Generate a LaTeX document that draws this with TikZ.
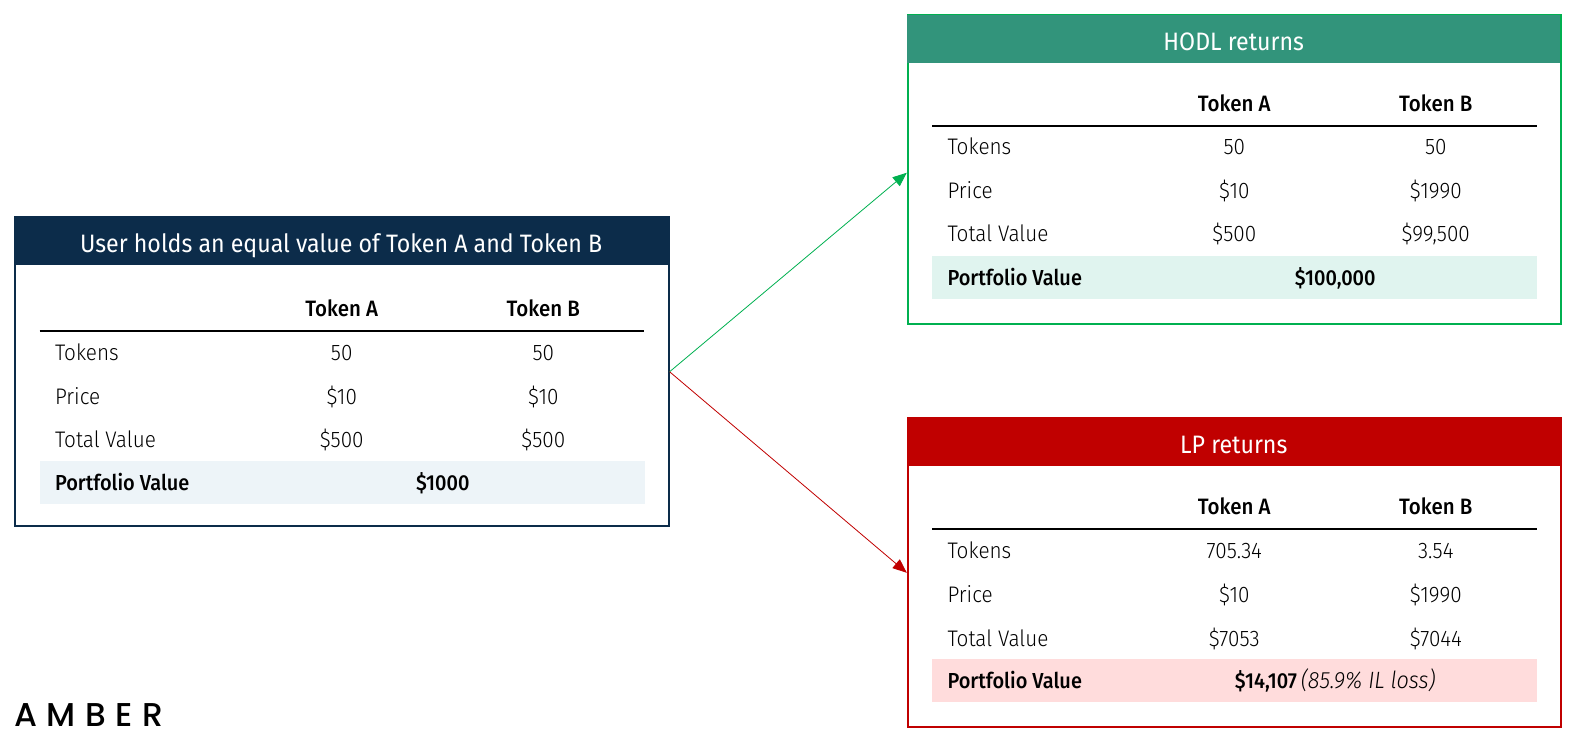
\documentclass[tikz,border=0pt]{standalone}
\usepackage{fontspec}
\setmainfont{Fira Sans Light}[BoldFont={Fira Sans Medium},ItalicFont={Fira Sans Light Italic},FakeStretch=0.92]
\newfontfamily\titlefont{Fira Sans}[FakeStretch=0.92]
\newfontfamily\logofont{Poppins Medium}[LetterSpace=29]
\usetikzlibrary{arrows.meta,calc}
\definecolor{navy}{HTML}{0C2C4A}
\definecolor{navyband}{HTML}{EDF4F8}
\definecolor{hgreen}{HTML}{00B050}
\definecolor{htitle}{HTML}{32947B}
\definecolor{hband}{HTML}{E0F4EF}
\definecolor{lred}{HTML}{C00000}
\definecolor{lband}{HTML}{FFDCDC}
\tikzset{
  x=0.75pt,y=-0.75pt,
  framebox/.style={draw=#1,line width=1.5pt,minimum width=487.5pt,minimum height=230.5pt,inner sep=0pt,anchor=north west},
  titlebox/.style={fill=#1,minimum width=487.5pt,minimum height=36.4pt,inner sep=0pt,anchor=north west,text=white,text height=16.6pt,text depth=0pt,font=\titlefont\fontsize{18.8}{20}\selectfont},
  bandbox/.style={fill=#1,minimum width=451.5pt,minimum height=31.8pt,inner sep=0pt,anchor=north west},
  cell/.style={inner sep=0pt,anchor=base,font=\fontsize{16.8}{18}\selectfont,text=black},
  cellL/.style={cell,anchor=base west},
  headcell/.style={cell,font=\fontsize{16.6}{18}\bfseries\selectfont,text=black},
  sumcell/.style={cell,font=\fontsize{16.2}{18}\bfseries\selectfont,text=black},
  sumcellL/.style={sumcell,anchor=base west},
  conn/.style={draw=#1,line width=0.6pt,-{Stealth[length=10.5pt,width=8.5pt,inset=0pt,fill=#1]}},
}
% name, left, top, frame colour, title fill, band colour, title, offset of body rows
\newcommand{\panelhead}[8]{%
  \node[framebox=#4] (#1frame) at ($(#2,#3)+(-0.8,-0.8)$) {};
  \node[titlebox=#5] (#1title) at ($(#2,#3)+(-0.8,-0.8)$) {#7};
  \node[bandbox=#6] (#1band) at ($(#2,#3)+(24.3,#8+239.4)$) {};
  \coordinate (#1ruleL) at ($(#2,#3)+(24.5,#8+110)$);
  \coordinate (#1ruleR) at ($(#2,#3)+(626,#8+110)$);
  \draw[line width=1.4pt,black] (#1ruleL) -- (#1ruleR);
  \node[headcell] (#1hA) at ($(#2,#3)+(325,#8+96)$) {Token A};
  \node[headcell] (#1hB) at ($(#2,#3)+(525.5,#8+96)$) {Token B};
}
% name, left, y, label, a, b
\newcommand{\panelrow}[6]{%
  \node[cellL] (#1l) at (#2+39.5,#3+8) {#4};
  \node[cell] (#1a) at (#2+325,#3+8) {#5};
  \node[cell] (#1b) at (#2+525.5,#3+8) {#6};
}
\newcommand{\panelsum}[4]{%
  \node[sumcellL] (#1sl) at (#2+39.5,#3+8) {Portfolio Value};
  \node[sumcell] (#1sv) at (#2+425.5,#3+8) {#4};
}
\begin{document}
\begin{tikzpicture}
\useasboundingbox (0,0) rectangle (1568,739.3);
% left
\panelhead{u}{15}{216}{navy}{navy}{navyband}{User holds an equal value of Token A and Token B}{3}
\panelrow{ur1}{15}{351}{Tokens}{50}{50}
\panelrow{ur2}{15}{394}{Price}{\$10}{\$10}
\panelrow{ur3}{15}{437}{Total Value}{\$500}{\$500}
\panelsum{u}{15}{480}{\$1000}
% hodl
\panelhead{h}{903}{15}{hgreen}{htitle}{hband}{HODL returns}{0}
\panelrow{hr1}{903}{146}{Tokens}{50}{50}
\panelrow{hr2}{903}{189}{Price}{\$10}{\$1990}
\panelrow{hr3}{903}{232}{Total Value}{\$500}{\$99,500}
\panelsum{h}{903}{276}{\$100,000}
% lp
\panelhead{l}{903}{416}{lred}{lred}{lband}{LP returns}{0}
\panelrow{lr1}{903}{548}{Tokens}{705.34}{3.54}
\panelrow{lr2}{903}{591}{Price}{\$10}{\$1990}
\panelrow{lr3}{903}{635}{Total Value}{\$7053}{\$7044}
\panelsum{l}{903}{677}{\$14,107{\mdseries\itshape\fontsize{17.6}{18}\selectfont\,(85.9\% IL loss)}}
% connectors
\draw[conn=hgreen] (uframe.east) -- ($(hframe.west)+(0,3)$);
\draw[conn=lred] (uframe.east) -- (lframe.west);
% logo
\node[inner sep=0pt,anchor=base west,font=\logofont\fontsize{24.6}{28}\selectfont] (logo) at (14,723) {AMBER};
\end{tikzpicture}
\end{document}
